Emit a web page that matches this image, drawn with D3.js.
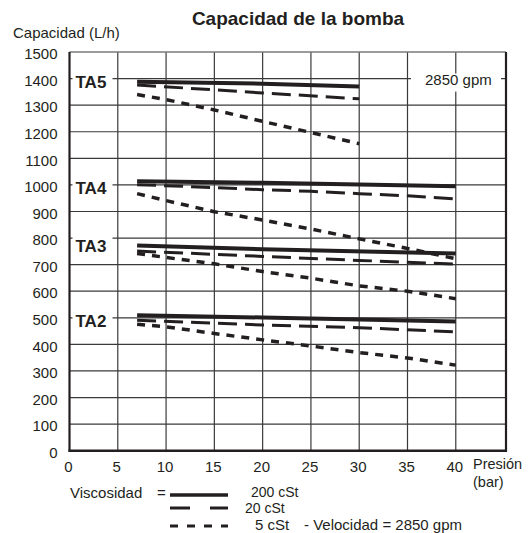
<!DOCTYPE html>
<html>
<head>
<meta charset="utf-8">
<script src="https://cdn.jsdelivr.net/npm/d3@7"></script>
<style>
  html, body { margin: 0; padding: 0; background: #fff; }
  svg { display: block; font-family: "Liberation Sans", Arial, sans-serif; }
</style>
</head>
<body>
<svg id="chart" width="528" height="533"></svg>
<script>
// Pump capacity (L/h) versus pressure (bar) for each pump model and oil viscosity
const xTicks = [0, 5, 10, 15, 20, 25, 30, 35, 40];
const yTicks = [0, 100, 200, 300, 400, 500, 600, 700, 800, 900, 1000, 1100, 1200, 1300, 1400, 1500];

const models = ["TA5", "TA4", "TA3", "TA2"];
const modelLabelLevel = [1400, 1000, 780, 500];
const viscosities = ["200 cSt", "20 cSt", "5 cSt"];

// [pressure, capacity] pairs
const ta5_200 = [[7, 1388], [20, 1381], [30, 1370]];
const ta5_20  = [[7, 1376], [20, 1346], [30, 1324]];
const ta5_5   = [[7, 1340], [10, 1321], [15, 1282], [20, 1239], [25, 1197], [30, 1155]];

const ta4_200 = [[7, 1014], [20, 1008], [40, 995]];
const ta4_20  = [[7, 1001], [15, 990], [20, 982], [25, 976], [30, 967], [35, 959], [40, 947]];
const ta4_5   = [[7, 967], [10, 941], [15, 899], [20, 868], [25, 834], [30, 797], [35, 761], [40, 722]];

const ta3_200 = [[7, 772], [20, 758], [40, 742]];
const ta3_20  = [[7, 751], [20, 731], [30, 716], [40, 702]];
const ta3_5   = [[7, 742], [10, 727], [15, 703], [20, 674], [25, 649], [30, 620], [35, 600], [40, 572]];

const ta2_200 = [[7, 510], [20, 501], [40, 486]];
const ta2_20  = [[7, 491], [20, 473], [30, 463], [40, 447]];
const ta2_5   = [[7, 476], [10, 466], [15, 441], [20, 417], [25, 394], [30, 369], [35, 349], [40, 322]];

const seriesByViscosity = {
  "200 cSt": [ta5_200, ta4_200, ta3_200, ta2_200],
  "20 cSt":  [ta5_20, ta4_20, ta3_20, ta2_20],
  "5 cSt":   [ta5_5, ta4_5, ta3_5, ta2_5]
};

const ink = "#231f20";
const lineStyle = {
  "200 cSt": { width: 4, dash: null, legendDash: null, legendWidth: 3.5 },
  "20 cSt":  { width: 3, dash: "19,8", legendDash: "20,20", legendWidth: 3 },
  "5 cSt":   { width: 3.5, dash: "8,7", legendDash: "8,9", legendWidth: 3 }
};

const svg = d3.select("#chart");
const plotLeft = 69.5, plotRight = 506, plotTop = 52, plotBottom = 450.7;

const x = d3.scaleLinear().domain([0, 45.2]).range([plotLeft, plotRight]);
const y = d3.scaleLinear().domain([0, 1500]).range([plotBottom, plotTop]);

// Grid
const grid = svg.append("g");
grid.selectAll("line.h").data(yTicks.filter(v => v > 0 && v < 1500)).join("line")
  .attr("class", "h")
  .attr("x1", plotLeft).attr("x2", plotRight)
  .attr("y1", d => y(d)).attr("y2", d => y(d))
  .attr("stroke", "#3a3a3a").attr("stroke-width", 1.2);
grid.selectAll("line.v").data(xTicks.filter(v => v > 0)).join("line")
  .attr("class", "v")
  .attr("x1", d => x(d)).attr("x2", d => x(d))
  .attr("y1", plotTop).attr("y2", plotBottom)
  .attr("stroke", "#3a3a3a").attr("stroke-width", 1.2);

// Frame
svg.append("line").attr("x1", plotLeft).attr("x2", plotRight).attr("y1", plotTop).attr("y2", plotTop)
  .attr("stroke", "#7a7a7a").attr("stroke-width", 1.3);
svg.append("line").attr("x1", plotLeft).attr("x2", plotLeft).attr("y1", plotTop).attr("y2", plotBottom + 1)
  .attr("stroke", ink).attr("stroke-width", 2.2);
svg.append("line").attr("x1", plotRight).attr("x2", plotRight).attr("y1", plotTop).attr("y2", plotBottom + 1)
  .attr("stroke", ink).attr("stroke-width", 2.2);
svg.append("line").attr("x1", plotLeft - 1).attr("x2", plotRight + 1).attr("y1", plotBottom).attr("y2", plotBottom)
  .attr("stroke", ink).attr("stroke-width", 2.6);

// Axes tick labels
const yAxis = d3.axisLeft(y).tickValues(yTicks).tickFormat(d3.format("d")).tickSize(0).tickPadding(12);
svg.append("g").attr("transform", `translate(${plotLeft},0)`).call(yAxis)
  .call(g => g.select(".domain").remove())
  .call(g => g.selectAll("text").attr("font-size", 15).attr("fill", ink)
    .attr("font-family", "Liberation Sans, Arial, sans-serif").attr("dy", "0.45em"));

const xAxis = d3.axisBottom(x).tickValues(xTicks).tickFormat(d3.format("d")).tickSize(0).tickPadding(11);
svg.append("g").attr("transform", `translate(-1.5,${plotBottom})`).call(xAxis)
  .call(g => g.select(".domain").remove())
  .call(g => g.selectAll("text").attr("font-size", 15).attr("fill", ink)
    .attr("font-family", "Liberation Sans, Arial, sans-serif"));

// Curves
const line = d3.line().x(d => x(d[0])).y(d => y(d[1]));
viscosities.forEach(v => {
  const st = lineStyle[v];
  svg.append("g").selectAll("path").data(seriesByViscosity[v]).join("path")
    .attr("d", line)
    .attr("fill", "none")
    .attr("stroke", ink)
    .attr("stroke-width", st.width)
    .attr("stroke-dasharray", st.dash);
});

// Model labels with white backing
models.forEach((m, i) => {
  const yy = y(modelLabelLevel[i]);
  svg.append("rect").attr("x", plotLeft + 3).attr("y", yy - 9).attr("width", 40).attr("height", 18).attr("fill", "#fff");
  svg.append("text").attr("x", plotLeft + 6).attr("y", yy + 9)
    .attr("font-size", 17).attr("font-weight", "bold").attr("fill", ink).text(m);
});

// Speed note on the 1400 line
svg.append("rect").attr("x", 411).attr("y", y(1400) - 5).attr("width", 90).attr("height", 18).attr("fill", "#fff");
svg.append("text").attr("x", 425).attr("y", y(1400) + 6).attr("font-size", 15).attr("fill", ink).text("2850 gpm");

// Titles
svg.append("text").attr("x", 298).attr("y", 25).attr("text-anchor", "middle")
  .attr("font-size", 19).attr("font-weight", "bold").attr("fill", ink).text("Capacidad de la bomba");
svg.append("text").attr("x", 13).attr("y", 38).attr("font-size", 15).attr("fill", ink).text("Capacidad (L/h)");
svg.append("text").attr("x", 473).attr("y", 469).attr("font-size", 14.5).attr("fill", ink).text("Presión");
svg.append("text").attr("x", 473).attr("y", 487).attr("font-size", 14.5).attr("fill", ink).text("(bar)");

// Legend
const legY = [495, 508, 526];
const legTextX = [251, 245, 255];
const legTextY = [497, 512.5, 530];
const legTextSize = [14, 14, 15];
svg.append("text").attr("x", 70).attr("y", 498).attr("font-size", 15).attr("fill", ink).text("Viscosidad");
svg.append("text").attr("x", 157).attr("y", 498).attr("font-size", 15).attr("fill", ink).text("=");
viscosities.forEach((v, i) => {
  const st = lineStyle[v];
  svg.append("line").attr("x1", 170).attr("x2", 228).attr("y1", legY[i]).attr("y2", legY[i])
    .attr("stroke", ink).attr("stroke-width", st.legendWidth)
    .attr("stroke-dasharray", st.legendDash);
  svg.append("text").attr("x", legTextX[i]).attr("y", legTextY[i]).attr("font-size", legTextSize[i]).attr("fill", ink).text(v);
});
svg.append("text").attr("x", 304).attr("y", 530).attr("font-size", 15).attr("fill", ink).text("- Velocidad = 2850 gpm");
</script>
</body>
</html>
